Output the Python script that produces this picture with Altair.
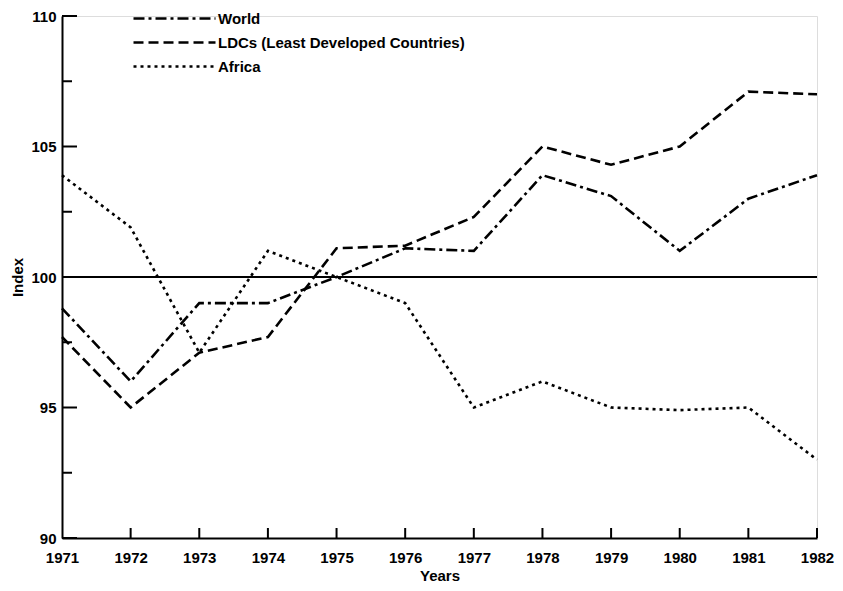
import altair as alt
import pandas as pd

years = list(range(1971, 1983))
world = [98.8, 96.0, 99.0, 99.0, 100.0, 101.1, 101.0, 103.9, 103.1, 101.0, 103.0, 103.9]
ldcs = [97.7, 95.0, 97.1, 97.7, 101.1, 101.2, 102.3, 105.0, 104.3, 105.0, 107.1, 107.0]
africa = [103.9, 101.9, 97.1, 101.0, 100.0, 99.0, 95.0, 96.0, 95.0, 94.9, 95.0, 93.0]
series_names = ["World", "LDCs (Least Developed Countries)", "Africa"]
series_dashes = [[11, 4, 3, 4], [10, 5], [3, 4]]
y_major = [90, 95, 100, 105, 110]
y_minor = [92.5, 97.5, 102.5, 107.5]
baseline = [100]

FONT = "Liberation Sans"

rows = []
for name, vals in zip(series_names, [world, ldcs, africa]):
    for yr, v in zip(years, vals):
        rows.append({"series": name, "year": yr, "value": v})
df = pd.DataFrame(rows)

W, H = 755, 522
xs = alt.Scale(domain=[years[0], years[-1]], nice=False, zero=False)
ys = alt.Scale(domain=[90, 110], nice=False, zero=False)

lines = alt.Chart(df).mark_line(color="black", strokeWidth=2.6).encode(
    x=alt.X("year:Q", scale=xs,
            axis=alt.Axis(values=years, format="d", title="Years", ticks=False, grid=False,
                          labelFlush=False, labelOverlap=False,
                          domainWidth=2, domainColor="black", labelPadding=12,
                          labelFontSize=15, labelFontWeight="bold", labelFont=FONT,
                          labelColor="black", titleFont=FONT, titleFontSize=15,
                          titleFontWeight="bold", titleColor="black", titlePadding=3)),
    y=alt.Y("value:Q", scale=ys,
            axis=alt.Axis(values=y_major, title="Index", ticks=False, grid=False,
                          labelFlush=False, labelOverlap=False,
                          domainWidth=2, domainColor="black", labelPadding=6,
                          labelFontSize=15, labelFontWeight="bold", labelFont=FONT,
                          labelColor="black", titleFont=FONT, titleFontSize=15,
                          titleFontWeight="bold", titleColor="black", titlePadding=5)),
    strokeDash=alt.StrokeDash("series:N",
                              scale=alt.Scale(domain=series_names, range=series_dashes),
                              legend=alt.Legend(title=None, orient="none", legendX=132, legendY=-9,
                                                symbolType="M-7.2,0H1", symbolSize=400,
                                                symbolStrokeColor="black", symbolStrokeWidth=2.5,
                                                symbolFillColor="transparent",
                                                labelFont=FONT, labelFontSize=15, labelLimit=400,
                                                labelFontWeight="bold", labelColor="black",
                                                labelOffset=1, rowPadding=4, padding=0)),
    detail="series:N",
)

base_df = pd.DataFrame({"y": baseline})
hline = alt.Chart(base_df).mark_rule(color="black", strokeWidth=2).encode(
    y=alt.Y("y:Q", scale=ys), x=alt.value(0), x2=alt.value(W))

ymaj = alt.Chart(pd.DataFrame({"y": y_major})).mark_rule(color="black", strokeWidth=2).encode(
    y=alt.Y("y:Q", scale=ys), x=alt.value(0), x2=alt.value(15))
ymin = alt.Chart(pd.DataFrame({"y": y_minor})).mark_rule(color="black", strokeWidth=2).encode(
    y=alt.Y("y:Q", scale=ys), x=alt.value(0), x2=alt.value(10))

xtick_df = pd.DataFrame({"year": years[1:]})
xticks = alt.Chart(xtick_df).mark_rule(color="black", strokeWidth=2).encode(
    x=alt.X("year:Q", scale=xs), y=alt.value(H), y2=alt.value(H - 10))

chart = alt.layer(hline, ymaj, ymin, xticks, lines).properties(
    width=W, height=H,
    autosize=alt.AutoSizeParams(type="none"),
    padding={"left": 54, "top": 8, "right": 18, "bottom": 45},
).configure_view(stroke=None).configure(background="white")

chart.save("out.html", embed_options={"renderer": "svg", "actions": False})
